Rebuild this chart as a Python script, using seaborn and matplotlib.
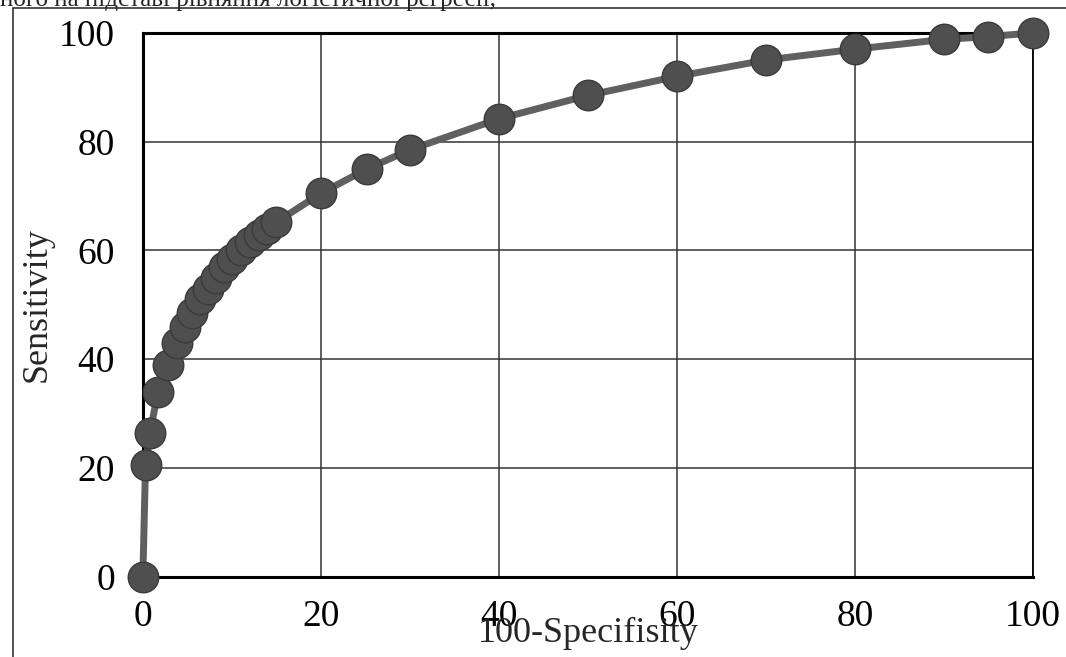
import numpy as np
import pandas as pd
import seaborn as sns
import matplotlib.pyplot as plt
from matplotlib.lines import Line2D

# ROC curve points
fpr = [0, 0.3, 0.8, 1.7, 2.8, 3.8, 4.7, 5.5, 6.4, 7.3, 8.2, 9.1, 10, 11, 12, 13, 14, 15,
       20, 25.2, 30, 40, 50, 60, 70, 80, 90, 95, 100]
sens = [0, 20.5, 26.5, 34, 39, 43, 46, 48.5, 51, 53, 55, 57, 58.5, 60, 61.5, 62.8, 64, 65.2,
        70.5, 75, 78.5, 84.2, 88.5, 92, 95, 97, 98.8, 99.3, 100]
ticks = [0, 20, 40, 60, 80, 100]

df = pd.DataFrame({"x": fpr, "y": sens})

sns.set_style("white")
plt.rcParams["font.family"] = ["Liberation Serif", "DejaVu Serif"]

fig = plt.figure(figsize=(10.66, 6.57), dpi=100)
ax = fig.add_axes([0.134, 0.122, 0.835, 0.828])

sns.lineplot(data=df, x="x", y="y", ax=ax, color="#606060", linewidth=5,
             marker="o", markersize=22, markerfacecolor="#4f4f4f",
             markeredgecolor="#3a3a3a", markeredgewidth=1, zorder=3, clip_on=False)

ax.set_xlim(0, 100)
ax.set_ylim(0, 100)
ax.set_xticks(ticks)
ax.set_yticks(ticks)
ax.grid(True, color="#333333", linewidth=1.1)
ax.tick_params(axis="both", length=0, labelsize=27, colors="black")
ax.tick_params(axis="x", pad=16)
ax.tick_params(axis="y", pad=20)
for s in ["left", "bottom", "top"]:
    ax.spines[s].set_linewidth(2.2)
    ax.spines[s].set_color("black")
ax.spines["right"].set_linewidth(1.3)
ax.spines["right"].set_color("black")

ax.set_xlabel("100-Specifisity", fontsize=26, labelpad=-12)
ax.set_ylabel("Sensitivity", fontsize=26, labelpad=4)

# outer chart-area frame of the scan
fig.add_artist(Line2D([0.012, 1.0], [0.988, 0.988], color="#333333", linewidth=1.2))
fig.add_artist(Line2D([0.012, 0.012], [0.0, 0.988], color="#333333", linewidth=1.2))
fig.text(0.0, 1.0, "ного на підставі рівняння логістичної регресії,",
         fontsize=18, va="center", ha="left")

plt.savefig("out.png", dpi=100)
